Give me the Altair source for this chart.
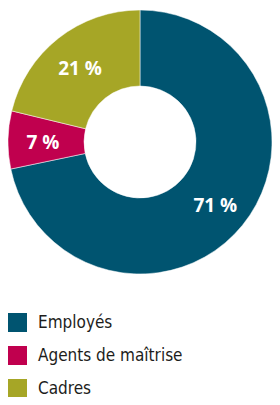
import altair as alt
import pandas as pd

categories = ["Employés", "Agents de maîtrise", "Cadres"]
values = [71, 7, 21]
labels = ["71 %", "7 %", "21 %"]
colors = ["#005470", "#c0004e", "#a6a626"]
order = [0, 1, 2]

df = pd.DataFrame({"cat": categories, "value": values, "label": labels, "ord": order})

CX, CY = 132, 134

base = alt.Chart(df).encode(
    theta=alt.Theta("value:Q", stack=True),
    order=alt.Order("ord:Q"),
)

arc = base.mark_arc(innerRadius=56, outerRadius=132, x=CX, y=CY, stroke="white", strokeWidth=0.5).encode(
    color=alt.Color(
        "cat:N",
        scale=alt.Scale(domain=categories, range=colors),
        legend=alt.Legend(
            title=None,
            orient="none",
            legendX=0,
            legendY=305,
            symbolType="square",
            symbolSize=361,
            symbolStrokeWidth=0,
            symbolOpacity=1,
            labelFont="DejaVu Sans Condensed",
            labelFontSize=17,
            labelColor="#1d1d1b",
            labelOffset=11,
            rowPadding=14,
            padding=0,
        ),
    )
)

text = base.mark_text(
    radius=97, x=CX, y=CY, dy=3, font="Open Sans", fontSize=19, fontWeight="bold", color="white"
).encode(text="label:N")

chart = (
    (arc + text)
    .properties(width=264, height=389, padding=0, autosize=alt.AutoSizeParams(type="none"))
    .configure_view(stroke=None)
)

chart.save("out.html", embed_options={"renderer": "svg", "actions": False})
